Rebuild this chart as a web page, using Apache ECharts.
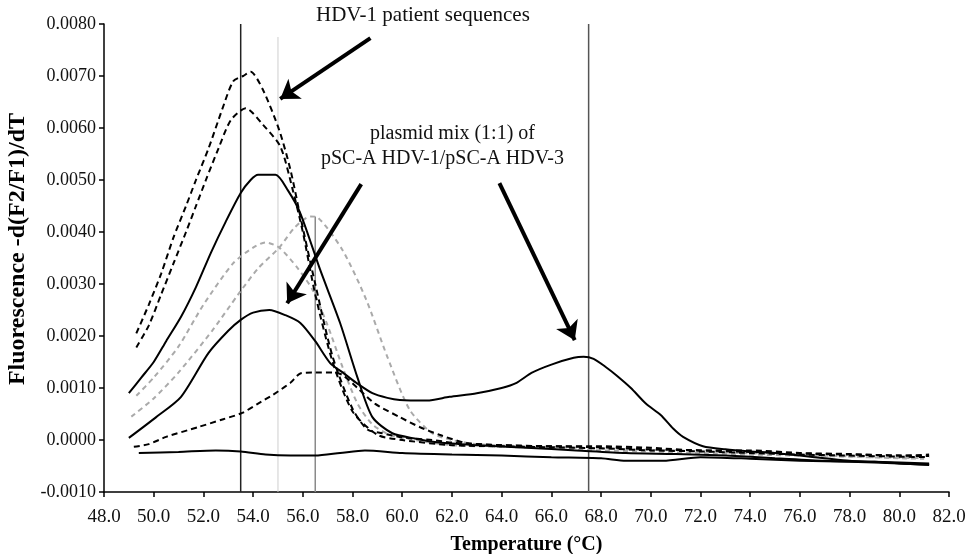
<!DOCTYPE html>
<html>
<head>
<meta charset="utf-8">
<script src="https://cdn.jsdelivr.net/npm/echarts@6/dist/echarts.min.js"></script>
<style>
  html, body { margin: 0; padding: 0; background: #fff; }
  #chart1 { width: 970px; height: 554px; }
</style>
</head>
<body>
<div id="chart1"></div>
<script>
// axis ticks
const xTicks = { min: 48, max: 82, step: 2 };
const yTicks = { min: -0.001, max: 0.008, step: 0.001 };

// HDV-1 patient sequences (black dashed)
const dashHigh = [[49.3,0.00205],[49.8,0.0026],[50.3,0.0032],[50.8,0.0039],[51.3,0.0045],[51.7,0.0050],[52.2,0.0056],[52.75,0.00635],[53.2,0.0069],[53.6,0.0070],[53.9,0.00708],[54.4,0.00673],[55.05,0.00596],[55.5,0.0052],[55.9,0.0043],[56.5,0.0030],[57.2,0.0016],[58.0,0.0006],[58.6,0.0002],[59.2,0.00013],[60.0,0.00005],[61.2,0.0],[62.0,-0.00005],[64.0,-0.0001],[66.0,-0.00012],[68.0,-0.00014],[70.0,-0.00018],[72.0,-0.0002],[74.0,-0.00023],[76.0,-0.00026],[78.0,-0.00028],[80.0,-0.0003],[81.2,-0.00031]];
const dashMid = [[49.3,0.00178],[49.8,0.0022],[50.3,0.0028],[50.8,0.0034],[51.3,0.0040],[51.7,0.0045],[52.1,0.0050],[52.6,0.0056],[53.1,0.00615],[53.7,0.00638],[54.4,0.00606],[55.1,0.00564],[55.6,0.0048],[56.0,0.0040],[56.5,0.0028],[57.2,0.0015],[58.0,0.00055],[59.0,0.0001],[60.0,0.0],[62.0,-0.0001],[64.0,-0.00012],[66.0,-0.00014],[68.0,-0.00016],[70.0,-0.0002],[72.0,-0.00022],[74.0,-0.00025],[76.0,-0.00028],[78.0,-0.0003],[80.0,-0.00032],[81.2,-0.00033]];
// black solid curves
const solidHigh = [[49.0,0.0009],[49.5,0.0012],[50.0,0.0015],[50.5,0.0019],[51.1,0.00237],[51.7,0.00294],[52.3,0.0036],[52.9,0.0042],[53.5,0.00475],[53.9,0.0050],[54.2,0.0051],[54.9,0.0051],[55.4,0.0048],[55.9,0.00436],[56.7,0.00327],[57.5,0.00225],[58.2,0.0012],[58.8,0.00044],[59.6,0.00013],[60.5,0.00003],[61.5,-0.00005],[63.0,-0.0001],[65.0,-0.00015],[67.0,-0.0002],[69.0,-0.00025],[71.0,-0.00027],[73.0,-0.0003],[75.0,-0.00035],[77.0,-0.0004],[79.0,-0.00042],[81.2,-0.00045]];
const solidMix = [[49.0,0.00004],[50.1,0.00044],[51.1,0.00083],[52.2,0.00167],[53.0,0.0021],[53.5,0.00231],[54.0,0.00245],[54.65,0.0025],[55.3,0.0024],[55.9,0.00225],[56.5,0.0019],[57.1,0.00148],[57.6,0.0013],[58.15,0.0011],[58.8,0.0009],[59.4,0.00081],[59.9,0.00077],[61.0,0.00076],[61.9,0.00083],[63.0,0.0009],[64.0,0.001],[64.6,0.0011],[65.2,0.00129],[66.0,0.00145],[66.9,0.00158],[67.3,0.0016],[67.7,0.00156],[68.2,0.0014],[68.6,0.00125],[69.2,0.001],[69.8,0.0007],[70.4,0.00048],[70.9,0.00022],[71.3,0.00006],[72.1,-0.00012],[73.0,-0.00018],[74.0,-0.00022],[75.0,-0.00025],[76.0,-0.0003],[77.0,-0.00035],[78.0,-0.0004],[79.0,-0.00042],[80.0,-0.00045],[81.2,-0.00047]];
const solidFlat = [[49.4,-0.00025],[51.0,-0.00023],[52.5,-0.0002],[53.5,-0.00022],[54.5,-0.00028],[55.5,-0.0003],[56.5,-0.0003],[57.5,-0.00025],[58.5,-0.0002],[60.0,-0.00025],[62.0,-0.00028],[64.0,-0.0003],[66.0,-0.00033],[68.0,-0.00035],[69.0,-0.0004],[70.5,-0.0004],[72.0,-0.00033],[74.0,-0.00036],[76.0,-0.0004],[78.0,-0.00042],[80.0,-0.00045],[81.2,-0.00048]];
const dashLow = [[49.2,-0.00013],[49.8,-0.00008],[50.5,0.00006],[51.8,0.00025],[52.8,0.0004],[53.56,0.00052],[54.2,0.0007],[54.8,0.00087],[55.5,0.0011],[55.9,0.00128],[56.5,0.0013],[57.2,0.0013],[57.6,0.00125],[58.2,0.001],[58.9,0.0007],[59.9,0.00044],[60.7,0.00025],[61.5,0.0001],[62.6,-0.00006],[64.0,-0.0001],[66.0,-0.00012],[68.0,-0.00012],[70.0,-0.00015],[72.0,-0.0002],[74.0,-0.0002],[76.0,-0.00025],[78.0,-0.00027],[80.0,-0.0003],[81.2,-0.00028]];
// grey dashed curves
const greyEarly = [[49.3,0.00085],[50.0,0.0012],[51.0,0.0018],[52.0,0.0026],[53.2,0.0034],[54.0,0.0037],[54.5,0.0038],[55.05,0.0037],[55.8,0.0033],[56.4,0.00288],[57.0,0.0022],[57.6,0.0014],[58.2,0.0007],[58.8,0.0003],[59.5,0.0001],[60.5,0.0],[62.0,-0.0001],[64.0,-0.00013],[66.0,-0.00016],[68.0,-0.0002],[70.0,-0.00022],[72.0,-0.00025],[74.0,-0.00028],[76.0,-0.0003],[78.0,-0.00032],[80.0,-0.00035],[81.0,-0.00036]];
const greyLate = [[49.1,0.00045],[50.0,0.0008],[51.0,0.0013],[52.35,0.0021],[53.4,0.0028],[54.2,0.0033],[55.05,0.0037],[55.7,0.0041],[56.3,0.0043],[56.6,0.00428],[57.6,0.00365],[58.55,0.0027],[59.4,0.0016],[60.3,0.00058],[61.2,0.00013],[62.0,0.0],[63.0,-0.00008],[65.0,-0.00012],[67.0,-0.00015],[69.0,-0.00018],[71.0,-0.0002],[73.0,-0.00024],[75.0,-0.00027],[77.0,-0.0003],[79.0,-0.00033],[81.0,-0.00035]];

// vertical reference lines: [temperature, top value]
const refLines = [[53.5,0.008],[55.0,0.00775],[56.5,0.0043],[67.5,0.008]];
const refColors = ['#222','#cfcfcf','#8a8a8a','#555'];

// annotation arrows: [from, to]
const arrows = [
  [[58.72,0.00773],[55.09,0.00656]],
  [[58.35,0.00492],[55.37,0.00263]],
  [[63.91,0.00494],[66.94,0.00192]]
];

const FONT = '"Liberation Serif", "DejaVu Serif", serif';

const curve = (data, color, type) => ({
  type: 'line',
  data: data,
  showSymbol: false,
  smooth: 0.25,
  lineStyle: { color: color, width: 2, type: type },
  z: 3
});

const series = [];
refLines.forEach((r, i) => {
  series.push({
    type: 'line',
    data: [[r[0], yTicks.min], [r[0], r[1]]],
    showSymbol: false,
    lineStyle: { color: refColors[i], width: i === 1 ? 1 : 1.5 },
    z: 2
  });
});
series.push(curve(greyEarly, '#aaa', [5, 4]));
series.push(curve(greyLate, '#aaa', [5, 4]));
series.push(curve(dashHigh, '#000', [6, 4]));
series.push(curve(dashMid, '#000', [6, 4]));
series.push(curve(dashLow, '#000', [6, 4]));
series.push(curve(solidHigh, '#000', 'solid'));
series.push(curve(solidMix, '#000', 'solid'));
series.push(curve(solidFlat, '#000', 'solid'));
series.push({
  type: 'lines',
  coordinateSystem: 'cartesian2d',
  data: arrows.map(a => ({ coords: a })),
  symbol: ['none', 'arrow'],
  symbolSize: [10, 18],
  lineStyle: { color: '#000', width: 4, opacity: 1 },
  z: 5
});

let myChart = echarts.init(document.getElementById('chart1'), null, { renderer: 'canvas' });
let option = {
  animation: false,
  backgroundColor: '#fff',
  grid: { left: 104, right: 21, top: 24, bottom: 62, outerBoundsMode: 'none', containLabel: false },
  xAxis: {
    type: 'value',
    min: xTicks.min, max: xTicks.max, interval: xTicks.step,
    name: 'Temperature (°C)',
    nameLocation: 'middle',
    nameGap: 43,
    nameTextStyle: { fontFamily: FONT, fontWeight: 'bold', fontSize: 20, color: '#000' },
    axisLine: { onZero: false, lineStyle: { color: '#000', width: 1.5 } },
    axisTick: { show: true, length: 5, lineStyle: { color: '#000', width: 1.5 } },
    axisLabel: { fontFamily: FONT, fontSize: 19, color: '#111', margin: 16, formatter: v => v.toFixed(1) },
    splitLine: { show: false }
  },
  yAxis: {
    type: 'value',
    min: yTicks.min, max: yTicks.max, interval: yTicks.step,
    name: 'Fluorescence -d(F2/F1)/dT',
    nameLocation: 'middle',
    nameGap: 70,
    nameTextStyle: { fontFamily: FONT, fontWeight: 'bold', fontSize: 24, color: '#000', padding: [0, 0, 0, 18] },
    axisLine: { show: true, onZero: false, lineStyle: { color: '#000', width: 1.5 } },
    axisTick: { show: true, length: 5, lineStyle: { color: '#000', width: 1.5 } },
    axisLabel: { fontFamily: FONT, fontSize: 18, color: '#111', margin: 8,
      formatter: v => (Math.abs(v) < 1e-9 ? 0 : v).toFixed(4) },
    splitLine: { show: false }
  },
  graphic: [
    { type: 'text', left: 316, top: 5, style: { text: 'HDV-1 patient sequences', font: '21px ' + FONT, fill: '#111' } },
    { type: 'text', left: 370, top: 124, style: { text: 'plasmid mix (1:1) of', font: '20px ' + FONT, fill: '#111' } },
    { type: 'text', left: 321, top: 149, style: { text: 'pSC-A HDV-1/pSC-A HDV-3', font: '20px ' + FONT, fill: '#111' } }
  ],
  series: series
};

if (option && typeof option === 'object') {
  myChart.setOption(option);
}
</script>
</body>
</html>
